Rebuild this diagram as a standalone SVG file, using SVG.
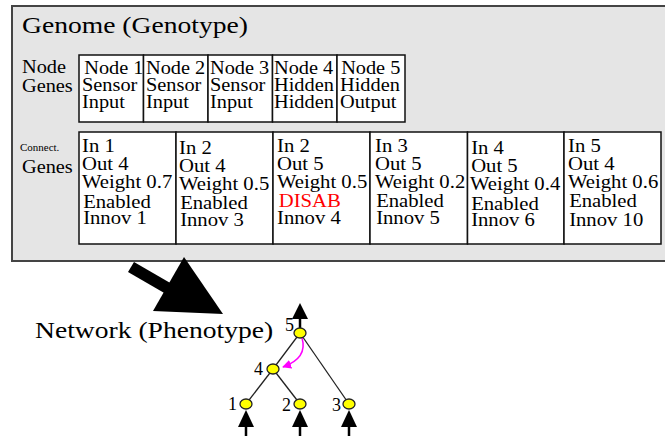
<svg xmlns="http://www.w3.org/2000/svg" width="665" height="436" viewBox="0 0 665 436">
<style>
.box{fill:#fff;stroke:#111;stroke-width:1.5}
.edge{stroke:#222;stroke-width:1.3;fill:none}
.nd{fill:#ffff00;stroke:#222;stroke-width:1.3}
</style>
<defs>
<marker id="mag" viewBox="0 0 10 10" refX="9" refY="5" markerWidth="6" markerHeight="6" orient="auto"><path d="M0,0 L10,5 L0,10 z" fill="#ff00ff"/></marker>
</defs>
<rect width="665" height="436" fill="#fff"/>
<g id="genome">
<rect x="12" y="6" width="660" height="255" fill="#e5e5e5" stroke="#444" stroke-width="2"/>
<g transform="translate(22,0) scale(1.2,1)"><text x="0" y="33" font-size="23" font-family="Liberation Serif">Genome (Genotype)</text></g>
</g>
<g id="node-genes">
<g transform="translate(22,0) scale(1.13,1)"><text x="0" y="73" font-size="18" font-family="Liberation Serif">Node</text><text x="0" y="92" font-size="18" font-family="Liberation Serif">Genes</text></g>
<rect x="79" y="55" width="64.5" height="67" class="box"/>
<rect x="143.5" y="55" width="64.5" height="67" class="box"/>
<rect x="208" y="55" width="64.5" height="67" class="box"/>
<rect x="272.5" y="55" width="64.5" height="67" class="box"/>
<rect x="337" y="55" width="68" height="67" class="box"/>
<g id="ng1" transform="translate(82,0) scale(1.13,1)"><text x="2" y="74" font-size="18" font-family="Liberation Serif">Node 1</text><text x="0" y="91" font-size="18" font-family="Liberation Serif">Sensor</text><text x="0" y="108" font-size="18" font-family="Liberation Serif">Input</text></g>
<g id="ng2" transform="translate(146,0) scale(1.13,1)"><text x="0" y="74" font-size="18" font-family="Liberation Serif">Node 2</text><text x="0" y="91" font-size="18" font-family="Liberation Serif">Sensor</text><text x="0" y="108" font-size="18" font-family="Liberation Serif">Input</text></g>
<g id="ng3" transform="translate(210,0) scale(1.13,1)"><text x="0" y="74" font-size="18" font-family="Liberation Serif">Node 3</text><text x="0" y="91" font-size="18" font-family="Liberation Serif">Sensor</text><text x="0" y="108" font-size="18" font-family="Liberation Serif">Input</text></g>
<g id="ng4" transform="translate(274,0) scale(1.13,1)"><text x="0" y="74" font-size="18" font-family="Liberation Serif">Node 4</text><text x="0" y="91" font-size="18" font-family="Liberation Serif">Hidden</text><text x="0" y="108" font-size="18" font-family="Liberation Serif">Hidden</text></g>
<g id="ng5" transform="translate(340,0) scale(1.13,1)"><text x="1" y="74" font-size="18" font-family="Liberation Serif">Node 5</text><text x="0" y="91" font-size="18" font-family="Liberation Serif">Hidden</text><text x="0" y="108" font-size="18" font-family="Liberation Serif">Output</text></g>
</g>
<g id="conn-genes">
<g transform="translate(20,0) scale(1.1,1)"><text x="0" y="151" font-size="10" font-family="Liberation Serif">Connect.</text></g>
<g transform="translate(22,0) scale(1.13,1)"><text x="0" y="173" font-size="18" font-family="Liberation Serif">Genes</text></g>
<rect x="79" y="132" width="97" height="112" class="box"/>
<rect x="176" y="132" width="97" height="112" class="box"/>
<rect x="273" y="132" width="97" height="112" class="box"/>
<rect x="370" y="132" width="97.5" height="112" class="box"/>
<rect x="467.5" y="132" width="96.5" height="112" class="box"/>
<rect x="564" y="132" width="97" height="112" class="box"/>
<g id="cg1" transform="translate(82,0) scale(1.15,1)"><text x="0" y="152" font-size="18" font-family="Liberation Serif">In 1</text><text x="0" y="170" font-size="18" font-family="Liberation Serif">Out 4</text><text x="0" y="188" font-size="18" font-family="Liberation Serif">Weight 0.7</text><text x="1" y="208" font-size="18" font-family="Liberation Serif">Enabled</text><text x="1" y="224" font-size="18" font-family="Liberation Serif">Innov 1</text></g>
<g id="cg2" transform="translate(179,0) scale(1.15,1)"><text x="0" y="154" font-size="18" font-family="Liberation Serif">In 2</text><text x="0" y="172" font-size="18" font-family="Liberation Serif">Out 4</text><text x="0" y="190" font-size="18" font-family="Liberation Serif">Weight 0.5</text><text x="1" y="209" font-size="18" font-family="Liberation Serif">Enabled</text><text x="1" y="226" font-size="18" font-family="Liberation Serif">Innov 3</text></g>
<g id="cg3" transform="translate(277,0) scale(1.15,1)"><text x="0" y="152" font-size="18" font-family="Liberation Serif">In 2</text><text x="0" y="170" font-size="18" font-family="Liberation Serif">Out 5</text><text x="0" y="188" font-size="18" font-family="Liberation Serif">Weight 0.5</text><text x="1.5" y="207" font-size="18" fill="#ff0000" font-family="Liberation Serif">DISAB</text><text x="0" y="224" font-size="18" font-family="Liberation Serif">Innov 4</text></g>
<g id="cg4" transform="translate(375,0) scale(1.15,1)"><text x="0" y="152" font-size="18" font-family="Liberation Serif">In 3</text><text x="0" y="170" font-size="18" font-family="Liberation Serif">Out 5</text><text x="0" y="188" font-size="18" font-family="Liberation Serif">Weight 0.2</text><text x="1" y="207" font-size="18" font-family="Liberation Serif">Enabled</text><text x="1" y="224" font-size="18" font-family="Liberation Serif">Innov 5</text></g>
<g id="cg5" transform="translate(470,0) scale(1.15,1)"><text x="1" y="154" font-size="18" font-family="Liberation Serif">In 4</text><text x="1" y="172" font-size="18" font-family="Liberation Serif">Out 5</text><text x="0" y="190" font-size="18" font-family="Liberation Serif">Weight 0.4</text><text x="1" y="210" font-size="18" font-family="Liberation Serif">Enabled</text><text x="1" y="226" font-size="18" font-family="Liberation Serif">Innov 6</text></g>
<g id="cg6" transform="translate(568,0) scale(1.15,1)"><text x="0" y="152" font-size="18" font-family="Liberation Serif">In 5</text><text x="0" y="170" font-size="18" font-family="Liberation Serif">Out 4</text><text x="0" y="188" font-size="18" font-family="Liberation Serif">Weight 0.6</text><text x="1" y="207" font-size="18" font-family="Liberation Serif">Enabled</text><text x="1" y="226" font-size="18" font-family="Liberation Serif">Innov 10</text></g>
</g>
<g id="big-arrow">
<polygon points="128,272 134,262 172,284 166,294" fill="#000"/>
<polygon points="153,311 184,257 223,314" fill="#000"/>
</g>
<g transform="translate(35,0) scale(1.2,1)"><text x="0" y="338" font-size="23" font-family="Liberation Serif">Network (Phenotype)</text></g>
<g id="connectors">
<line x1="300" y1="333" x2="273" y2="369" class="edge"/>
<line x1="300" y1="333" x2="349" y2="404" class="edge"/>
<line x1="273" y1="369" x2="246" y2="404" class="edge"/>
<line x1="273" y1="369" x2="300" y2="404" class="edge"/>
<path d="M302,338 Q308,358 283,367" stroke="#ff00ff" stroke-width="1.5" fill="none" marker-end="url(#mag)"/>
<line x1="300" y1="328" x2="300" y2="317" stroke="#000" stroke-width="2.5"/>
<polygon points="300,303 292,319 308,319" fill="#000"/>
<line x1="246" y1="436" x2="246" y2="425" stroke="#000" stroke-width="2.5"/>
<polygon points="246,410 238,427 254,427" fill="#000"/>
<line x1="300" y1="436" x2="300" y2="425" stroke="#000" stroke-width="2.5"/>
<polygon points="300,410 292,427 308,427" fill="#000"/>
<line x1="349" y1="436" x2="349" y2="425" stroke="#000" stroke-width="2.5"/>
<polygon points="349,410 341,427 357,427" fill="#000"/>
</g>
<g id="n5"><ellipse cx="300" cy="333" rx="6" ry="5" class="nd"/><text x="285" y="331" font-size="18" font-family="Liberation Serif">5</text></g>
<g id="n4"><ellipse cx="273" cy="369" rx="6" ry="5" class="nd"/><text x="254" y="375" font-size="18" font-family="Liberation Serif">4</text></g>
<g id="n1"><ellipse cx="246" cy="404" rx="6" ry="5" class="nd"/><text x="228" y="410" font-size="18" font-family="Liberation Serif">1</text></g>
<g id="n2"><ellipse cx="300" cy="404" rx="6" ry="5" class="nd"/><text x="282" y="411" font-size="18" font-family="Liberation Serif">2</text></g>
<g id="n3"><ellipse cx="349" cy="404" rx="6" ry="5" class="nd"/><text x="332" y="411" font-size="18" font-family="Liberation Serif">3</text></g>
</svg>
